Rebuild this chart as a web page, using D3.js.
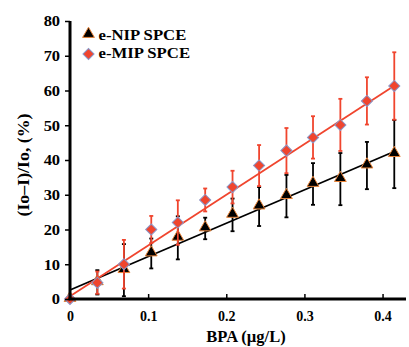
<!DOCTYPE html>
<html>
<head>
<meta charset="utf-8">
<script src="https://cdn.jsdelivr.net/npm/d3@7"></script>
<style>
  body { margin: 0; background: #fff; }
  text { font-family: "Liberation Serif", "Times New Roman", serif; font-weight: bold; }
</style>
</head>
<body>
<div id="chart"></div>
<script>
// BPA concentrations (µg/L)
const conc = [0, 0.035, 0.069, 0.104, 0.138, 0.173, 0.208, 0.242, 0.277, 0.311, 0.346, 0.380, 0.415];
// e-NIP SPCE response (%) and error
const nipVals = [0, 4.8, 8.3, 13.1, 17.6, 20.3, 24.2, 26.6, 29.6, 33.1, 34.5, 38.4, 41.7];
const nipErr = [0, 3.5, 7.5, 4.3, 6.2, 3.1, 4.7, 5.6, 6.1, 6.0, 7.5, 6.8, 9.8];
// e-MIP SPCE response (%) and error
const mipVals = [0, 4.7, 10.0, 20.0, 22.0, 28.5, 32.2, 38.4, 42.7, 46.5, 50.1, 57.0, 61.3];
const mipErr = [0, 3.2, 7.0, 3.9, 6.4, 3.3, 4.7, 5.9, 6.5, 6.1, 7.5, 6.8, 9.7];
// linear fits [intercept, slope]
const nipFit = [2.6, 96];
const mipFit = [0.8, 146];

const yTicks = [0, 10, 20, 30, 40, 50, 60, 70, 80];
const xTicks = [0, 0.1, 0.2, 0.3, 0.4];
const legendNames = ["e-NIP SPCE", "e-MIP SPCE"];

const width = 409, height = 347;
const x = d3.scaleLinear().domain([0, 0.43]).range([70, 406]);
const y = d3.scaleLinear().domain([0, 80]).range([299, 21]);

const svg = d3.select('#chart').append('svg')
  .attr('width', width)
  .attr('height', height);

// series: black NIP first, red MIP on top
const series = [
  {name: legendNames[0], vals: nipVals, err: nipErr, fit: nipFit, color: '#000000', marker: 'tri'},
  {name: legendNames[1], vals: mipVals, err: mipErr, fit: mipFit, color: '#f0452e', marker: 'dia'}
];

const triangle = d3.symbol().type(d3.symbolTriangle).size(60);
const diamond = d3.symbol().type(d3.symbolSquare).size(62);

function drawMarker(g, s) {
  if (s.marker === 'tri') {
    g.append('path').attr('d', triangle)
      .attr('transform', 'translate(0,-1)')
      .attr('fill', '#000').attr('stroke', '#e8843a').attr('stroke-width', 1);
  } else {
    g.append('path').attr('d', diamond)
      .attr('transform', 'rotate(45)')
      .attr('fill', '#f0452e').attr('stroke', '#8a96c8').attr('stroke-width', 1);
  }
}

series.forEach(s => {
  const g = svg.append('g');
  // fit line
  const x0 = conc[0], x1 = conc[conc.length - 1];
  g.append('line')
    .attr('x1', x(x0)).attr('y1', y(s.fit[0] + s.fit[1] * x0))
    .attr('x2', x(x1)).attr('y2', y(s.fit[0] + s.fit[1] * x1))
    .attr('stroke', s.color).attr('stroke-width', 1.8);

  // error bars
  const eb = g.selectAll('.eb').data(conc.map((c, i) => ({c, v: s.vals[i], e: s.err[i]})).filter(d => d.e > 0))
    .enter().append('g');
  eb.append('line')
    .attr('x1', d => x(d.c)).attr('x2', d => x(d.c))
    .attr('y1', d => y(d.v - d.e)).attr('y2', d => y(d.v + d.e))
    .attr('stroke', s.color).attr('stroke-width', 1.8);
  [-1, 1].forEach(sign => {
    eb.append('line')
      .attr('x1', d => x(d.c) - 2).attr('x2', d => x(d.c) + 2)
      .attr('y1', d => y(d.v + sign * d.e)).attr('y2', d => y(d.v + sign * d.e))
      .attr('stroke', s.color).attr('stroke-width', 1.8);
  });

  // markers
  conc.forEach((c, i) => {
    const m = g.append('g').attr('transform', `translate(${x(c)},${y(s.vals[i])})`);
    drawMarker(m, s);
  });
});

// axes
const yAxis = d3.axisLeft(y).tickValues(yTicks).tickSize(5).tickFormat(d3.format('d'));
const gy = svg.append('g').attr('transform', `translate(${x(0)},0)`).call(yAxis);
gy.select('.domain').attr('stroke', '#000').attr('stroke-width', 3).attr('d', `M0,${y(0)}V${y(80)}`);
gy.selectAll('.tick line').attr('stroke-width', 1.5);
gy.selectAll('.tick text').attr('font-size', 15).attr('font-family', 'Liberation Serif')
  .attr('x', -9).attr('transform', 'scale(1.1,1)');

const xAxis = d3.axisBottom(x).tickValues(xTicks).tickSize(-5).tickFormat(d => d === 0 ? '0' : d3.format('.1f')(d));
const gx = svg.append('g').attr('transform', `translate(0,${y(0)})`).call(xAxis);
gx.select('.domain').attr('stroke', '#000').attr('stroke-width', 3).attr('d', `M${x(0) - 1.5},0H${x.range()[1]}`);
gx.selectAll('.tick line').attr('stroke-width', 1.5);
gx.selectAll('.tick text').attr('font-size', 14).attr('font-family', 'Liberation Serif').attr('y', 12);

// axis titles
svg.append('text')
  .attr('x', 246).attr('y', 342)
  .attr('text-anchor', 'middle')
  .attr('font-size', 16.5)
  .text('BPA (µg/L)');

svg.append('text')
  .attr('transform', 'translate(29,165) rotate(-90)')
  .attr('text-anchor', 'middle')
  .attr('font-size', 16)
  .attr('textLength', 103)
  .attr('lengthAdjust', 'spacingAndGlyphs')
  .text('(Io–I)/Io, (%)');

// legend
const legend = svg.append('g');
series.forEach((s, i) => {
  const lg = legend.append('g').attr('transform', `translate(88.5,${35 + i * 17.5})`);
  const mk = lg.append('g').attr('transform', `translate(0,${i * 1.5})`);
  drawMarker(mk, s);
  lg.append('text')
    .attr('x', 0).attr('y', 0)
    .attr('transform', 'translate(10,5) scale(1.08,1)')
    .attr('font-size', 15.5)
    .text(s.name);
});
</script>
</body>
</html>
